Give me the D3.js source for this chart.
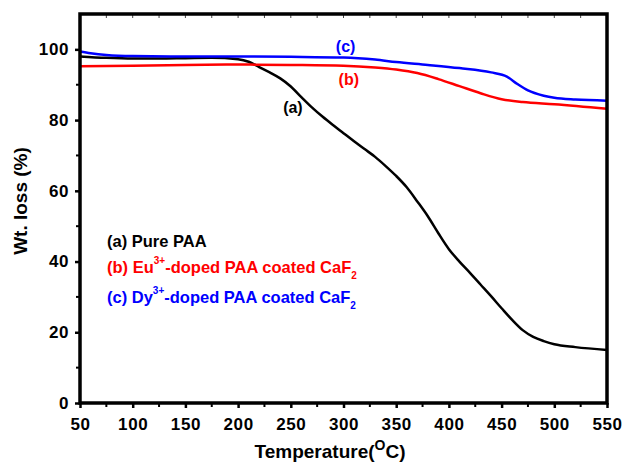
<!DOCTYPE html>
<html>
<head>
<meta charset="utf-8">
<script src="https://cdn.jsdelivr.net/npm/d3@7"></script>
<style>
  body { margin: 0; background: #fff; }
  text { font-family: "Liberation Sans", Arial, sans-serif; font-weight: bold; }
</style>
</head>
<body>
<div id="chart"></div>
<script>
// TGA curves (temperature in °C, weight in %)
var tempA = [50, 75, 100, 125, 150, 175, 200, 210, 220, 230, 240, 250, 260, 270, 280, 290, 300, 310, 320, 330, 340, 350, 360, 370, 380, 390, 400, 410, 420, 430, 440, 450, 460, 470, 480, 490, 500, 520, 550];
var wtA   = [98.0, 97.6, 97.4, 97.4, 97.5, 97.6, 97.2, 96.5, 95.0, 93.5, 91.8, 89.5, 86.5, 83.6, 81.0, 78.6, 76.3, 74.0, 71.8, 69.6, 67.0, 64.2, 61.0, 57.0, 52.8, 48.0, 43.5, 40.0, 36.8, 33.5, 30.2, 26.8, 23.5, 20.6, 18.7, 17.5, 16.6, 15.8, 15.0];

var tempB = [50, 100, 150, 200, 250, 300, 330, 350, 370, 390, 410, 430, 450, 470, 500, 550];
var wtB   = [95.2, 95.4, 95.6, 95.7, 95.6, 95.4, 94.9, 94.3, 93.3, 91.6, 89.6, 87.6, 85.9, 85.1, 84.5, 83.2];

var tempC = [50, 60, 75, 100, 150, 200, 250, 300, 330, 350, 380, 410, 440, 455, 465, 475, 490, 500, 520, 550];
var wtC   = [99.4, 98.9, 98.4, 98.1, 98.0, 98.0, 97.9, 97.7, 97.1, 96.4, 95.6, 94.7, 93.5, 92.3, 90.2, 88.4, 86.9, 86.3, 85.8, 85.5];

var xTicks = [50, 100, 150, 200, 250, 300, 350, 400, 450, 500, 550];
var xMinor = [75, 125, 175, 225, 275, 325, 375, 425, 475, 525];
var yTicks = [0, 20, 40, 60, 80, 100];
var yMinor = [10, 30, 50, 70, 90];

var width = 624, height = 462;
var margin = {top: 14, right: 17, bottom: 59, left: 80};

var svg = d3.select("#chart").append("svg")
  .attr("width", width)
  .attr("height", height);

var x = d3.scaleLinear().domain([50, 550]).range([margin.left, width - margin.right]);
var y = d3.scaleLinear().domain([0, 110]).range([height - margin.bottom, margin.top]);

// curves
var series = [
  {t: tempA, w: wtA, color: "#000000"},
  {t: tempB, w: wtB, color: "#ff0000"},
  {t: tempC, w: wtC, color: "#0000ff"}
];
var line = d3.line()
  .x(function(d) { return x(d[0]); })
  .y(function(d) { return y(d[1]); })
  .curve(d3.curveMonotoneX);

series.forEach(function(s) {
  svg.append("path")
    .datum(d3.zip(s.t, s.w))
    .attr("fill", "none")
    .attr("stroke", s.color)
    .attr("stroke-width", 2.5)
    .attr("d", line);
});

// axes
var xAxis = svg.append("g")
  .attr("transform", "translate(0," + (height - margin.bottom) + ")")
  .call(d3.axisBottom(x).tickValues(xTicks).tickSize(5).tickPadding(10).tickSizeOuter(0));
xAxis.select(".domain").remove();
xAxis.selectAll("line").attr("stroke-width", 2.5);
xAxis.selectAll("text").attr("font-size", 17).attr("letter-spacing", "0.6px").attr("fill", "#000");

svg.append("g")
  .attr("transform", "translate(0," + (height - margin.bottom) + ")")
  .selectAll("line").data(xMinor).enter().append("line")
  .attr("x1", function(d) { return x(d); }).attr("x2", function(d) { return x(d); })
  .attr("y1", 0).attr("y2", 4)
  .attr("stroke", "#000").attr("stroke-width", 2);

var yAxis = svg.append("g")
  .attr("transform", "translate(" + margin.left + ",0)")
  .call(d3.axisLeft(y).tickValues(yTicks).tickSize(5).tickPadding(6).tickSizeOuter(0));
yAxis.select(".domain").remove();
yAxis.selectAll("line").attr("stroke-width", 2.5);
yAxis.selectAll("text").attr("font-size", 17).attr("letter-spacing", "0.6px").attr("fill", "#000");

svg.append("g")
  .attr("transform", "translate(" + margin.left + ",0)")
  .selectAll("line").data(yMinor).enter().append("line")
  .attr("x1", -4).attr("x2", 0)
  .attr("y1", function(d) { return y(d); }).attr("y2", function(d) { return y(d); })
  .attr("stroke", "#000").attr("stroke-width", 2);

// small inner ticks along the top border
svg.append("g")
  .selectAll("line").data(xTicks.concat(xMinor)).enter().append("line")
  .attr("x1", function(d) { return x(d); }).attr("x2", function(d) { return x(d); })
  .attr("y1", margin.top).attr("y2", margin.top + 4)
  .attr("stroke", "#444").attr("stroke-width", 1);

// frame
svg.append("rect")
  .attr("x", margin.left)
  .attr("y", margin.top)
  .attr("width", width - margin.left - margin.right)
  .attr("height", height - margin.top - margin.bottom)
  .attr("fill", "none")
  .attr("stroke", "#000")
  .attr("stroke-width", 3.5);

// axis titles
svg.append("text")
  .attr("transform", "translate(27,201) rotate(-90)")
  .attr("text-anchor", "middle")
  .attr("font-size", 19)
  .text("Wt. loss (%)");

var xt = svg.append("text")
  .attr("x", 330)
  .attr("y", 458)
  .attr("text-anchor", "middle")
  .attr("font-size", 19);
xt.append("tspan").text("Temperature(");
xt.append("tspan").attr("font-size", 14).attr("dy", -8).text("O");
xt.append("tspan").attr("dy", 8).text("C)");

// curve labels
var curveLabels = [
  {txt: "(a)", t: 252, w: 82, color: "#000"},
  {txt: "(b)", t: 305, w: 90, color: "#ff0000"},
  {txt: "(c)", t: 302, w: 99.3, color: "#0000ff"}
];
svg.selectAll("text.clab").data(curveLabels).enter().append("text")
  .attr("class", "clab")
  .attr("x", function(d) { return x(d.t); })
  .attr("y", function(d) { return y(d.w); })
  .attr("text-anchor", "middle")
  .attr("font-size", 16)
  .attr("fill", function(d) { return d.color; })
  .text(function(d) { return d.txt; });

// legend
var legend = [
  {pre: "(a) Pure PAA", sup: "", post: "", sub: "", color: "#000"},
  {pre: "(b) Eu", sup: "3+", post: "-doped PAA coated CaF", sub: "2", color: "#ff0000"},
  {pre: "(c) Dy", sup: "3+", post: "-doped PAA coated CaF", sub: "2", color: "#0000ff"}
];
var legendY = [247, 273, 303];
legend.forEach(function(d, i) {
  var t = svg.append("text")
    .attr("x", 107)
    .attr("y", legendY[i])
    .attr("font-size", 16.5)
    .attr("fill", d.color);
  t.append("tspan").text(d.pre);
  if (d.sup) {
    t.append("tspan").attr("font-size", 10).attr("dy", -9).text(d.sup);
    t.append("tspan").attr("dy", 9).text(d.post);
    t.append("tspan").attr("font-size", 10).attr("dy", 6).text(d.sub);
  }
});
</script>
</body>
</html>
